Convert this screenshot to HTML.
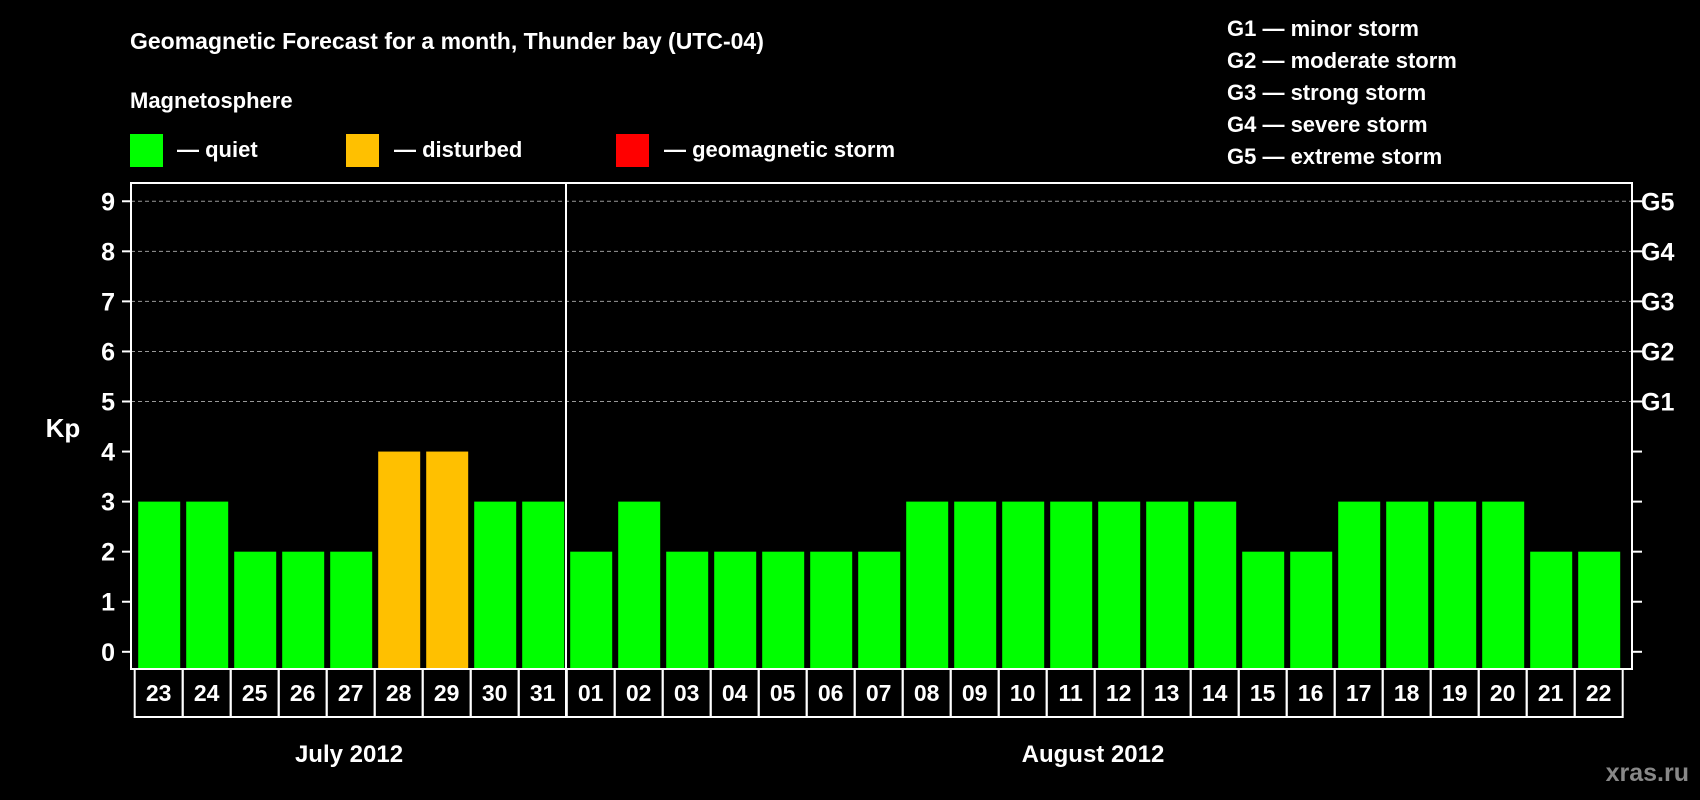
<!DOCTYPE html>
<html><head><meta charset="utf-8"><style>
html,body{margin:0;padding:0;background:#000;}
svg{display:block;font-family:"Liberation Sans",Arial,sans-serif;font-weight:bold;}
</style></head><body>
<svg id="chart" width="1700" height="800" viewBox="0 0 1700 800">
<rect width="1700" height="800" fill="#000"/>
<text x="130" y="49" fill="#fff" font-size="23">Geomagnetic Forecast for a month, Thunder bay (UTC-04)</text>
<text x="130" y="108" fill="#fff" font-size="22">Magnetosphere</text>
<g><rect x="130" y="134" width="33" height="33" fill="#00ff00"/><text x="177" y="157" fill="#fff" font-size="22">— quiet</text></g>
<g><rect x="346" y="134" width="33" height="33" fill="#ffc000"/><text x="394" y="157" fill="#fff" font-size="22">— disturbed</text></g>
<g><rect x="616" y="134" width="33" height="33" fill="#ff0000"/><text x="664" y="157" fill="#fff" font-size="22">— geomagnetic storm</text></g>
<g fill="#fff" font-size="22">
<text x="1227" y="36">G1 — minor storm</text>
<text x="1227" y="68">G2 — moderate storm</text>
<text x="1227" y="100">G3 — strong storm</text>
<text x="1227" y="132">G4 — severe storm</text>
<text x="1227" y="164">G5 — extreme storm</text>
</g>
<text x="63" y="437" fill="#fff" font-size="26" text-anchor="middle">Kp</text>
<g id="grid"></g>
<g id="bars"></g>
<rect x="131" y="183" width="1501" height="486" fill="none" stroke="#fff" stroke-width="2"/>
<line x1="566" y1="183" x2="566" y2="717" stroke="#fff" stroke-width="2"/>
<g id="axes"></g>
<text x="349" y="762" fill="#fff" font-size="24" text-anchor="middle">July 2012</text>
<text x="1093" y="762" fill="#fff" font-size="24" text-anchor="middle">August 2012</text>
<text x="1689" y="781" fill="#888" font-size="25" text-anchor="end">xras.ru</text>
</svg>
<script>
const days = ["23","24","25","26","27","28","29","30","31","01","02","03","04","05","06","07","08","09","10","11","12","13","14","15","16","17","18","19","20","21","22"];
const kpValues = [3,3,2,2,2,4,4,3,3,2,3,2,2,2,2,2,3,3,3,3,3,3,3,2,2,3,3,3,3,2,2];
const yTicks = [0,1,2,3,4,5,6,7,8,9];
const gLabels = ["G1","G2","G3","G4","G5"];
const gLevels = [5,6,7,8,9];
const NS = "http://www.w3.org/2000/svg";
const y0 = 651.8, unit = 50.06, x0 = 134.7, step = 48;
function yScale(v){ return y0 - v*unit; }
function xScale(i){ return x0 + i*step; }
function colorFor(v){ return v>=5 ? "#ff0000" : (v>=4 ? "#ffc000" : "#00ff00"); }
function mk(tag, attrs, parent){ const e=document.createElementNS(NS,tag); for(const k in attrs) e.setAttribute(k,attrs[k]); parent.appendChild(e); return e; }
const grid=document.getElementById("grid"), bars=document.getElementById("bars"), axes=document.getElementById("axes");
yTicks.forEach(v=>{
  const y=yScale(v);
  if(v>=5){
    const gl=mk("line",{x1:131,x2:1632,y1:y,y2:y,stroke:"#999","stroke-width":1,"stroke-dasharray":"4,3"},grid);
    
    
  }
  const tl=mk("line",{x1:122,x2:131,y1:y,y2:y,stroke:"#fff","stroke-width":2},axes);
  
  
  const tr=mk("line",{x1:1632,x2:1642,y1:y,y2:y,stroke:"#fff","stroke-width":2},axes);
  
  
  const t=mk("text",{x:115,y:y+9,fill:"#fff","font-size":25,"text-anchor":"end"},axes);
  t.textContent=v;
  
  
});
gLabels.forEach((g,i)=>{
  const t=mk("text",{x:1641,y:yScale(gLevels[i])+9,fill:"#fff","font-size":25},axes);
  t.textContent=g;
  
  
});
days.forEach((d,i)=>{
  const v=kpValues[i];
  const r=mk("rect",{x:xScale(i)+3.5,y:yScale(v),width:42,height:669-yScale(v)-1,fill:colorFor(v)},bars);
  
  
  const b=mk("rect",{x:xScale(i),y:669,width:step,height:48,fill:"none",stroke:"#fff","stroke-width":2},axes);
  
  
  const t=mk("text",{x:xScale(i)+step/2,y:701,fill:"#fff","font-size":23,"text-anchor":"middle"},axes);
  t.textContent=d;
  
  
});
</script>
</body></html>
